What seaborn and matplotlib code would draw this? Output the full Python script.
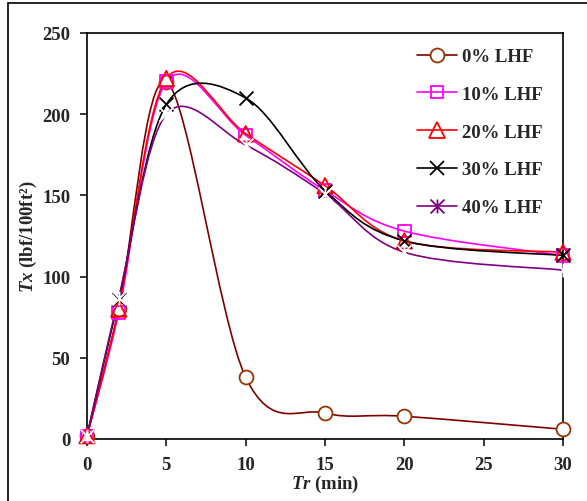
#!/usr/bin/env python3
import numpy as np
import pandas as pd
import matplotlib
matplotlib.use('Agg')
import matplotlib.pyplot as plt
import seaborn as sns
from matplotlib.path import Path
from matplotlib.patches import PathPatch, Rectangle
from matplotlib.lines import Line2D

# Data
time_min = [0, 2, 5, 10, 15, 20, 30]
lhf_0 = [2, 80, 220, 38, 16, 14, 6]
lhf_10 = [2, 78, 220, 187, 153, 128, 113]
lhf_20 = [2, 80, 222, 188, 156, 122, 115]
lhf_30 = [2, 86, 206, 210, 153, 122, 113]
lhf_40 = [2, 87, 200, 181, 151, 115, 104]
labels = ['0% LHF', '10% LHF', '20% LHF', '30% LHF', '40% LHF']

# asterisk marker (X plus vertical bar, like the Excel star)
star = Path([(0, -1), (0, 1), (-1, -1), (1, 1), (-1, 1), (1, -1)],
            [Path.MOVETO, Path.LINETO, Path.MOVETO, Path.LINETO, Path.MOVETO, Path.LINETO])

styles = [
    dict(line='#800000', edge='#993300', marker='o', size=10, face='white'),
    dict(line='#FF00FF', edge='#FF00FF', marker='s', size=9, face='none'),
    dict(line='#FF0000', edge='#FF0000', marker='^', size=11, face='none'),
    dict(line='black', edge='black', marker='x', size=10, face='none'),
    dict(line='#800080', edge='#800080', marker=star, size=10, face='none'),
]
series = [lhf_0, lhf_10, lhf_20, lhf_30, lhf_40]

sns.set_style('ticks')
plt.rcParams['font.family'] = ['Liberation Serif', 'DejaVu Serif']
plt.rcParams['font.weight'] = 'bold'
plt.rcParams['mathtext.fontset'] = 'custom'
plt.rcParams['mathtext.it'] = 'Liberation Serif:italic:bold'
plt.rcParams['mathtext.rm'] = 'Liberation Serif:bold'
FS = 13.5


def smooth_path(xs, ys):
    # Excel-style smoothed line: cubic Bezier through the points
    pts = np.column_stack([xs, ys]).astype(float)
    verts = [pts[0]]
    codes = [Path.MOVETO]
    n = len(pts)
    for i in range(n - 1):
        p0 = pts[i - 1] if i > 0 else pts[i]
        p3 = pts[i + 2] if i + 2 < n else pts[i + 1]
        c1 = pts[i] + (pts[i + 1] - p0) / 6
        c2 = pts[i + 1] - (p3 - pts[i]) / 6
        verts += [c1, c2, pts[i + 1]]
        codes += [Path.CURVE4] * 3
    return Path(verts, codes)


fig = plt.figure(figsize=(5.87, 5.02), dpi=100)
ax = fig.add_axes([87 / 587, 1 - 440 / 502, (563 - 87) / 587, (440 - 34) / 502])

handles = []
for vals, st, lab in zip(series, styles, labels):
    ax.add_patch(PathPatch(smooth_path(time_min, vals), fill=False,
                           edgecolor=st['line'], lw=1.2, zorder=2))
    df = pd.DataFrame({'t': time_min, 'v': vals})
    if st['marker'] == 'x' or st['marker'] is star:
        sns.scatterplot(data=df, x='t', y='v', ax=ax, marker=st['marker'],
                        s=st['size'] ** 2, color=st['edge'], linewidth=1.3,
                        clip_on=False, zorder=3, legend=False)
    else:
        sns.scatterplot(data=df, x='t', y='v', ax=ax, marker=st['marker'],
                        s=st['size'] ** 2, facecolor=st['face'], edgecolor=st['edge'],
                        linewidth=1.3, clip_on=False, zorder=3, legend=False)
    handles.append(Line2D([], [], color=st['line'], lw=1.2, marker=st['marker'],
                          markersize=st['size'], markerfacecolor=st['face'],
                          markeredgecolor=st['edge'], markeredgewidth=1.3, label=lab))

ax.set_xlim(0, 30)
ax.set_ylim(0, 250)
ax.set_xticks(range(0, 31, 5))
ax.set_yticks(range(0, 251, 50))
for s in ax.spines.values():
    s.set_visible(True)
    s.set_linewidth(1.2)
    s.set_color('black')
ax.tick_params(direction='out', length=5, width=1.1, labelsize=FS, pad=7, color='black')
ax.set_xlabel('$Tr$ (min)', fontsize=FS, fontweight='bold', labelpad=0)
ax.set_ylabel('$Tx$ (lbf/100ft²)', fontsize=FS, fontweight='bold', labelpad=2)

fig.legend(handles=handles, loc='upper left', bbox_to_anchor=(417 / 587, 1 - 49 / 502),
           frameon=False, fontsize=FS, handlelength=2.13, handletextpad=0.27,
           labelspacing=1.1, borderpad=0, borderaxespad=0)

# outer frame of the picture
fig.patches.append(Rectangle((8 / 587, -0.05), 1.0, 1.05 - 4 / 502, transform=fig.transFigure,
                             fill=False, edgecolor='black', lw=1.2))

fig.savefig('out.png', dpi=100)
